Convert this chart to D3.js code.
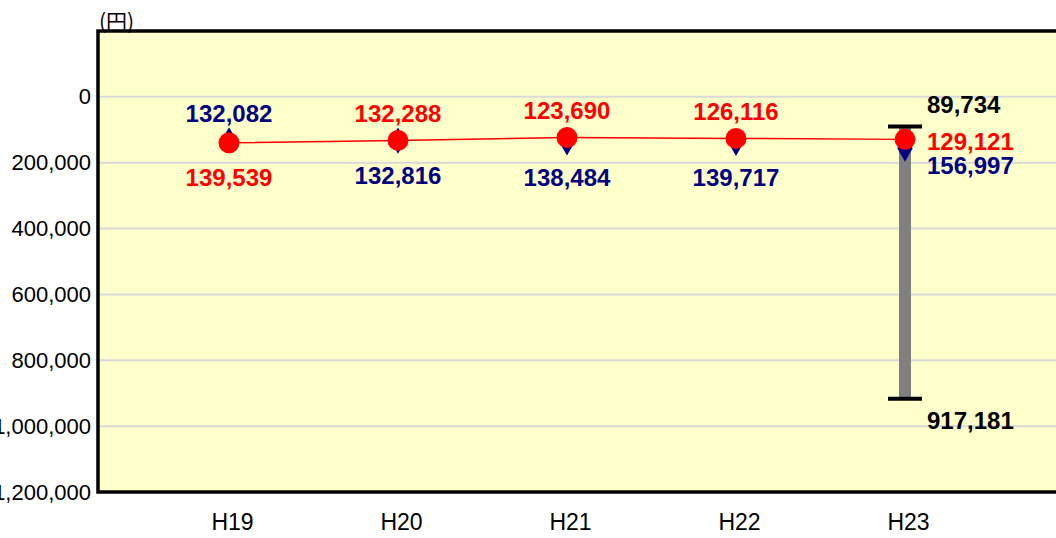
<!DOCTYPE html>
<html>
<head>
<meta charset="utf-8">
<script src="https://cdn.jsdelivr.net/npm/d3@7.9.0/dist/d3.min.js"></script>
<style>
  html, body { margin: 0; padding: 0; background: #fff; }
  svg { display: block; font-family: "Liberation Sans", Arial, sans-serif; }
</style>
</head>
<body>
<svg width="1056" height="538"></svg>
<script>
const categories = ['H19', 'H20', 'H21', 'H22', 'H23'];
const redValues = [139539, 132288, 123690, 126116, 129121];
const navyValues = [132082, 132816, 138484, 139717, 156997];
const rangeCategories = ['H23'];
const rangeLow = [89734];
const rangeHigh = [917181];
const yTicks = [0, 200000, 400000, 600000, 800000, 1000000, 1200000];

const svg = d3.select('svg');
const plot = { left: 98, top: 31, right: 1090, bottom: 492 };

let x = d3.scalePoint().domain(categories).range([229, 905]);
let y = d3.scaleLinear().domain([-200000, 1200000]).range([plot.top, plot.bottom]);
let fmt = d3.format(',');

// background
svg.append('rect')
  .attr('x', plot.left).attr('y', plot.top)
  .attr('width', plot.right - plot.left).attr('height', plot.bottom - plot.top)
  .attr('fill', '#ffffcc');

// grid
svg.append('g')
  .selectAll('line')
  .data(yTicks.slice(0, -1))
  .join('line')
  .attr('x1', plot.left).attr('x2', plot.right)
  .attr('y1', (d) => y(d)).attr('y2', (d) => y(d))
  .attr('stroke', '#d9d9d9').attr('stroke-width', 2);

// border
svg.append('rect')
  .attr('x', plot.left).attr('y', plot.top)
  .attr('width', plot.right - plot.left).attr('height', plot.bottom - plot.top)
  .attr('fill', 'none').attr('stroke', '#000').attr('stroke-width', 3.5);

// y axis labels
let yAxis = svg.append('g')
  .attr('transform', `translate(${plot.left},0)`)
  .call(d3.axisLeft(y).tickValues(yTicks).tickFormat(fmt).tickSize(0).tickPadding(7));
yAxis.select('.domain').remove();
yAxis.selectAll('text')
  .attr('font-size', 22).attr('fill', '#000')
  .attr('font-family', '"Liberation Sans", Arial, sans-serif');

// x axis labels
let xAxis = svg.append('g')
  .attr('transform', `translate(3,${plot.bottom})`)
  .call(d3.axisBottom(x).tickSize(0).tickPadding(22));
xAxis.select('.domain').remove();
xAxis.selectAll('text')
  .attr('font-size', 23).attr('fill', '#000')
  .attr('font-family', '"Liberation Sans", Arial, sans-serif');

// unit
svg.append('text')
  .attr('x', 99).attr('y', 29)
  .attr('font-size', 21)
  .attr('font-family', '"Noto Sans CJK JP", sans-serif')
  .text('(円)');

// range bar
let ranges = rangeCategories.map((c, i) => ({ cat: c, low: rangeLow[i], high: rangeHigh[i] }));
svg.append('g').selectAll('rect')
  .data(ranges)
  .join('rect')
  .attr('x', (d) => x(d.cat) - 6)
  .attr('y', (d) => y(d.low))
  .attr('width', 12)
  .attr('height', (d) => y(d.high) - y(d.low))
  .attr('fill', '#808080');
ranges.forEach((d) => {
  [d.low, d.high].forEach((v) => {
    svg.append('line')
      .attr('x1', x(d.cat) - 17).attr('x2', x(d.cat) + 17)
      .attr('y1', y(v)).attr('y2', y(v))
      .attr('stroke', '#000').attr('stroke-width', 4);
  });
  svg.append('text')
    .attr('x', x(d.cat) + 22).attr('y', y(d.low) - 22)
    .attr('class', 'lbl').attr('fill', '#000').text(fmt(d.low));
  svg.append('text')
    .attr('x', x(d.cat) + 22).attr('y', y(d.high) + 22)
    .attr('class', 'lbl').attr('fill', '#000').text(fmt(d.high));
});

// navy diamonds
svg.append('g').selectAll('path')
  .data(navyValues)
  .join('path')
  .attr('d', d3.symbol(d3.symbolDiamond, 200))
  .attr('transform', (d, i) => `translate(${x(categories[i])},${y(d)})`)
  .attr('fill', '#000080');

// red line + circles
let line = d3.line().x((d, i) => x(categories[i])).y((d) => y(d));
svg.append('path')
  .datum(redValues)
  .attr('d', line)
  .attr('fill', 'none').attr('stroke', '#ff0000').attr('stroke-width', 1.5);
svg.append('g').selectAll('circle')
  .data(redValues)
  .join('circle')
  .attr('cx', (d, i) => x(categories[i]))
  .attr('cy', (d) => y(d))
  .attr('r', 10.5)
  .attr('fill', '#ff0000');

// value labels
let hasRange = (c) => rangeCategories.includes(c);
categories.forEach((c, i) => {
  let r = redValues[i], n = navyValues[i];
  if (hasRange(c)) {
    svg.append('text').attr('class', 'lbl').attr('fill', '#ff0000')
      .attr('x', x(c) + 22).attr('y', y(r) + 2).text(fmt(r));
    svg.append('text').attr('class', 'lbl').attr('fill', '#000080')
      .attr('x', x(c) + 22).attr('y', y(n) + 17).text(fmt(n));
  } else {
    let redBelow = r > n;
    svg.append('text').attr('class', 'lbl mid').attr('fill', '#ff0000')
      .attr('x', x(c)).attr('y', redBelow ? y(r) + 35 : y(r) - 27).text(fmt(r));
    svg.append('text').attr('class', 'lbl mid').attr('fill', '#000080')
      .attr('x', x(c)).attr('y', redBelow ? y(n) - 27 : y(n) + 35).text(fmt(n));
  }
});

svg.selectAll('.lbl')
  .attr('font-size', 24).attr('font-weight', 'bold')
  .attr('dominant-baseline', 'central');
svg.selectAll('.mid').attr('text-anchor', 'middle');
</script>
</body>
</html>
